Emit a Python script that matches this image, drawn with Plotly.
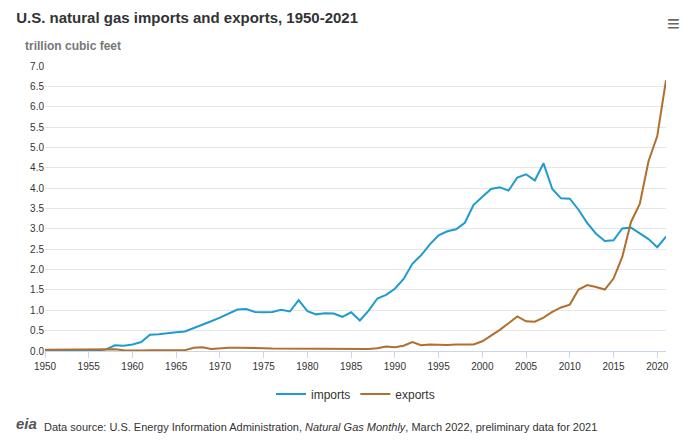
import plotly.graph_objects as go

years = list(range(1950, 2022))
imports = [0.00, 0.01, 0.01, 0.01, 0.01, 0.01, 0.01, 0.04, 0.14, 0.13,
           0.16, 0.22, 0.40, 0.41, 0.44, 0.46, 0.48, 0.56, 0.65, 0.73,
           0.82, 0.93, 1.02, 1.03, 0.96, 0.95, 0.96, 1.01, 0.97, 1.25,
           0.98, 0.90, 0.93, 0.92, 0.84, 0.95, 0.75, 0.99, 1.29, 1.38,
           1.53, 1.77, 2.14, 2.35, 2.62, 2.84, 2.94, 2.99, 3.15, 3.59,
           3.78, 3.98, 4.02, 3.94, 4.26, 4.34, 4.19, 4.61, 3.98, 3.75,
           3.74, 3.47, 3.14, 2.88, 2.70, 2.72, 3.01, 3.03, 2.89, 2.75,
           2.55, 2.81]
exports = [0.03, 0.03, 0.03, 0.03, 0.03, 0.03, 0.04, 0.04, 0.04, 0.02,
           0.01, 0.01, 0.02, 0.02, 0.02, 0.03, 0.02, 0.08, 0.09, 0.05,
           0.07, 0.08, 0.08, 0.08, 0.08, 0.07, 0.06, 0.06, 0.05, 0.06,
           0.05, 0.06, 0.05, 0.05, 0.05, 0.06, 0.06, 0.05, 0.07, 0.11,
           0.09, 0.13, 0.22, 0.14, 0.16, 0.15, 0.15, 0.16, 0.16, 0.16,
           0.24, 0.37, 0.52, 0.68, 0.85, 0.73, 0.72, 0.82, 0.96, 1.07,
           1.14, 1.51, 1.62, 1.57, 1.51, 1.78, 2.31, 3.17, 3.61, 4.66,
           5.28, 6.65]

fig = go.Figure()
fig.add_trace(go.Scatter(x=years, y=imports, name="imports", mode="lines",
                         line=dict(color="#1f9bcf", width=2)))
fig.add_trace(go.Scatter(x=years, y=exports, name="exports", mode="lines",
                         line=dict(color="#b06f2c", width=2)))

fig.update_layout(
    width=689, height=445,
    margin=dict(l=37, r=31, t=58, b=102),
    plot_bgcolor="white", paper_bgcolor="white",
    font=dict(family="Arial, Liberation Sans, sans-serif", color="#333", size=11),
    title=dict(text="<b>U.S. natural gas imports and exports, 1950-2021</b>",
               x=0.012, xanchor="left", y=0.99, yanchor="top",
               font=dict(size=15, color="#333")),
    showlegend=True,
    legend=dict(orientation="h", x=0.5, xanchor="center", y=-0.1, yanchor="top",
                font=dict(size=12, color="#333")),
    xaxis=dict(range=[1950, 2021], tick0=1950, dtick=5, showgrid=False,
               showline=True, linecolor="#ccd6eb", ticks="outside",
               tickcolor="#ccd6eb", ticklen=6, tickfont=dict(size=10, color="#333")),
    yaxis=dict(range=[0, 7.0], dtick=0.5, tickformat=".1f", showgrid=True,
               gridcolor="#e6e6e6", zeroline=False, tickfont=dict(size=10, color="#333")),
    annotations=[
        dict(text="<b>trillion cubic feet</b>", xref="paper", yref="paper",
             x=-0.035, y=1.04, xanchor="left", yanchor="bottom", showarrow=False,
             font=dict(size=12, color="#777")),
        dict(text="Data source: U.S. Energy Information Administration, <i>Natural Gas Monthly</i>, March 2022, preliminary data for 2021",
             xref="paper", yref="paper", x=-0.005, y=-0.265, xanchor="left", yanchor="middle",
             showarrow=False, font=dict(size=11, color="#333")),
        dict(text="<b><i>eia</i></b>", xref="paper", yref="paper", x=-0.05, y=-0.255,
             xanchor="left", yanchor="middle", showarrow=False,
             font=dict(size=15, color="#555")),
        dict(text="≡", xref="paper", yref="paper", x=1.025, y=1.2, xanchor="right",
             yanchor="top", showarrow=False, font=dict(size=22, color="#666")),
    ],
)

fig.write_html("out.html")
